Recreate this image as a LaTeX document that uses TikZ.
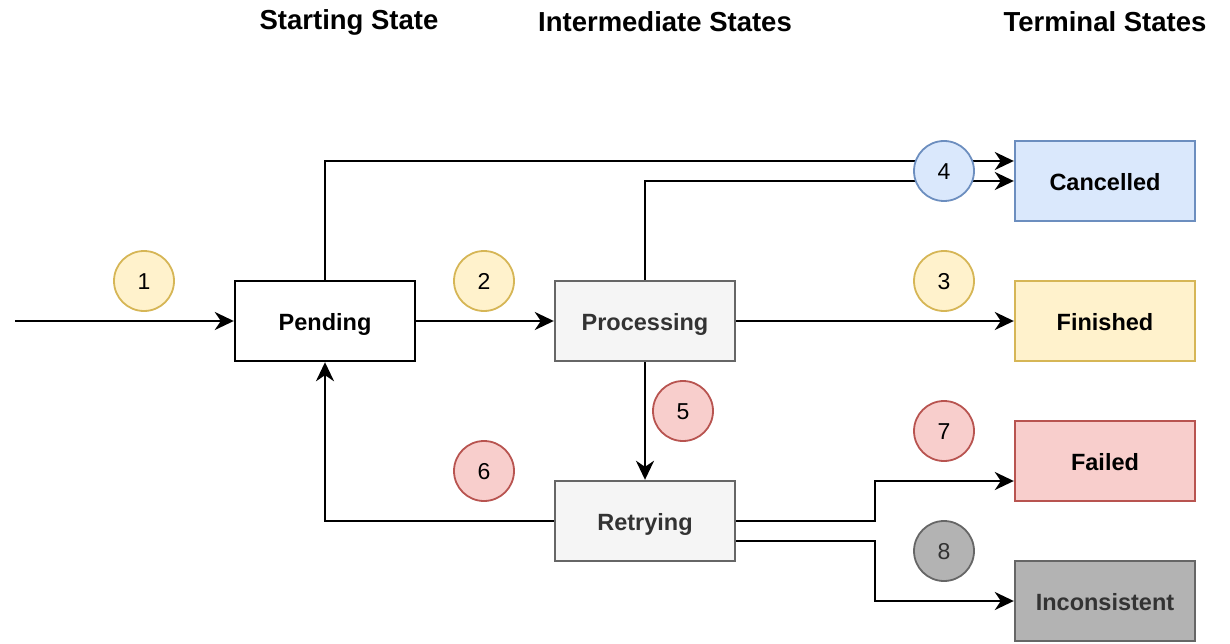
\documentclass[tikz,border=0pt]{standalone}
\usepackage{fontspec}
\setmainfont{Liberation Sans}
\usetikzlibrary{arrows.meta}
\definecolor{yfill}{HTML}{FFF2CC}\definecolor{ydraw}{HTML}{D6B656}
\definecolor{bfill}{HTML}{DAE8FC}\definecolor{bdraw}{HTML}{6C8EBF}
\definecolor{rfill}{HTML}{F8CECC}\definecolor{rdraw}{HTML}{B85450}
\definecolor{gfill}{HTML}{F5F5F5}\definecolor{gdraw}{HTML}{666666}
\definecolor{dfill}{HTML}{B3B3B3}\definecolor{gtext}{HTML}{333333}
\begin{document}
\begin{tikzpicture}[x=1pt,y=-1pt,
  statebox/.style={draw, line width=2.4pt, minimum width=180pt, minimum height=80pt, inner sep=0pt, text height=19pt, text depth=0pt, font=\fontsize{23.5}{26}\selectfont\bfseries},
  numcirc/.style={circle, draw, line width=1.8pt, minimum size=60pt, inner sep=0pt, text height=17pt, text depth=0pt, font=\fontsize{23}{26}\selectfont},
  title/.style={font=\fontsize{27.5}{30}\selectfont\bfseries, inner sep=0pt},
  conn/.style={line width=2.4pt, -{Stealth[length=19pt,width=18pt,inset=6pt]}}]
\useasboundingbox (0,0) rectangle (1230,644);
% titles
\node[title] (t1) at (349,22) {Starting State};
\node[title] (t2) at (665,22) {Intermediate States};
\node[title] (t3) at (1105,22) {Terminal States};
% boxes
\node[statebox, fill=white] (pend) at (325,321) {Pending};
\node[statebox, fill=gfill, draw=gdraw, text=gtext] (proc) at (645,321) {Processing};
\node[statebox, fill=gfill, draw=gdraw, text=gtext] (retr) at (645,521) {Retrying};
\node[statebox, fill=bfill, draw=bdraw] (canc) at (1105,181) {Cancelled};
\node[statebox, fill=yfill, draw=ydraw] (fin) at (1105,321) {Finished};
\node[statebox, fill=rfill, draw=rdraw] (fail) at (1105,461) {Failed};
\node[statebox, fill=dfill, draw=gdraw, text=gtext] (inco) at (1105,601) {Inconsistent};
% connectors
\coordinate (start) at (15,321);
\draw[conn] (start) -- (pend.west);
\draw[conn] (pend.east) -- (proc.west);
\draw[conn] (proc.east) -- (fin.west);
\draw[conn] (pend.north) |- ([yshift=20pt]canc.west);
\draw[conn] (proc.north) |- (canc.west);
\draw[conn] (proc.south) -- (retr.north);
\draw[conn] (retr.west) -| (pend.south);
\draw[conn] (retr.east) -- (875,521) |- ([yshift=-20pt]fail.west);
\draw[conn] ([yshift=-20pt]retr.east) -- (875,541) |- (inco.west);
% number circles
\node[numcirc, fill=yfill, draw=ydraw] (c1) at (144,281) {1};
\node[numcirc, fill=yfill, draw=ydraw] (c2) at (484,281) {2};
\node[numcirc, fill=yfill, draw=ydraw] (c3) at (944,281) {3};
\node[numcirc, fill=bfill, draw=bdraw] (c4) at (944,171) {4};
\node[numcirc, fill=rfill, draw=rdraw] (c5) at (683,411) {5};
\node[numcirc, fill=rfill, draw=rdraw] (c6) at (484,471) {6};
\node[numcirc, fill=rfill, draw=rdraw] (c7) at (944,431) {7};
\node[numcirc, fill=dfill, draw=gdraw, text=gtext] (c8) at (944,551) {8};
\end{tikzpicture}
\end{document}
